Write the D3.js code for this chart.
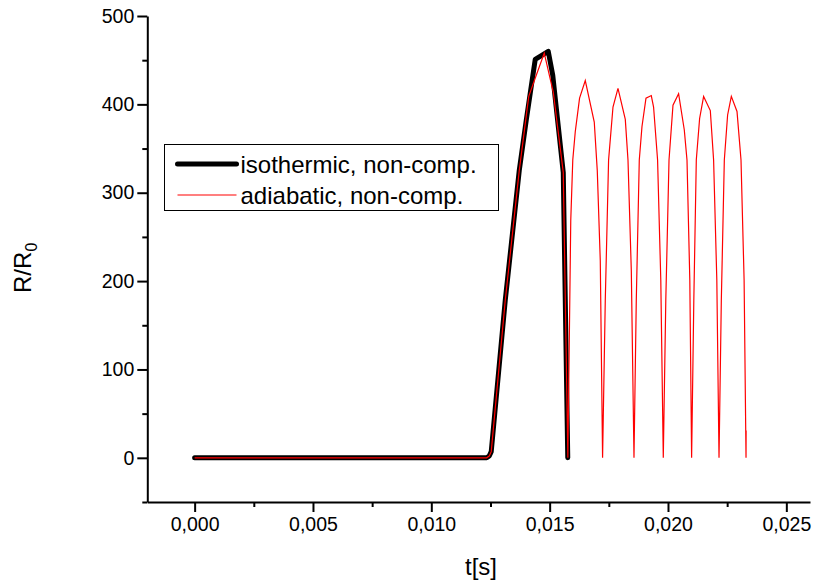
<!DOCTYPE html>
<html>
<head>
<meta charset="utf-8">
<script src="https://cdn.jsdelivr.net/npm/d3@7"></script>
<style>
  body { margin: 0; background: #fff; }
  svg { font-family: "Liberation Sans", Arial, sans-serif; }
  .axis path, .axis line { stroke: #000; stroke-width: 2px; }
  .axis text { font-size: 19.5px; fill: #000; }
</style>
</head>
<body>
<svg width="814" height="583"></svg>
<script>

// isothermic, non-comp. (black thick line)
var isoT = [0, 0.01234, 0.012447, 0.012532, 0.013123, 0.013715, 0.014011, 0.014391, 0.014941, 0.015131, 0.015575, 0.015765]
var isoR = [0, 0, 2, 7, 178, 325, 382, 451, 460, 433, 323, 0]

// adiabatic, non-comp. (thin red line)
var adiT = [0, 0.01234, 0.012447, 0.012532, 0.013123, 0.013715, 0.014117, 0.014434, 0.014772, 0.015152, 0.015575, 0.015769,
  0.015892, 0.015977, 0.016082, 0.016264, 0.016505, 0.016885, 0.017012, 0.017139, 0.017236,
  0.017350, 0.017490, 0.017676, 0.017887, 0.018196, 0.018310, 0.018450, 0.018563,
  0.018660, 0.018787, 0.018901, 0.019070, 0.019294, 0.019391, 0.019560, 0.019696, 0.019801,
  0.019907, 0.020043, 0.020211, 0.020448, 0.020689, 0.020803, 0.020922, 0.020998,
  0.021091, 0.021196, 0.021336, 0.021505, 0.021788, 0.021927, 0.022063, 0.022156,
  0.022253, 0.022380, 0.022519, 0.022676, 0.022916, 0.023085, 0.023216, 0.023297, 0.023301]
var adiR = [0, 0, 2, 7, 178, 325, 409, 433, 458, 414, 323, 0,
  269, 337, 369, 407, 427, 380, 325, 223, 0,
  178, 337, 397, 418, 383, 337, 212, 0,
  178, 337, 375, 407, 410, 397, 337, 201, 0,
  178, 337, 399, 412, 371, 337, 201, 0,
  178, 337, 384, 409, 393, 337, 201, 0,
  178, 337, 388, 409, 392, 337, 201, 0, 31]

var xTicks = [0, 0.005, 0.010, 0.015, 0.020, 0.025]
var xMinor = [0.0025, 0.0075, 0.0125, 0.0175, 0.0225]
var yTicks = [0, 100, 200, 300, 400, 500]
var yMinor = [-50, 50, 150, 250, 350, 450]

var seriesNames = ["isothermic, non-comp.", "adiabatic, non-comp."]
var seriesColors = ["#000000", "#ff0000"]
var seriesWidths = [5, 1.2]

var svg = d3.select("svg")

var x = d3.scaleLinear().domain([-0.002, 0.026]).range([147.3, 810])
var y = d3.scaleLinear().domain([-50, 500]).range([502, 16])

var loc = d3.formatLocale({decimal: ",", thousands: ".", grouping: [3], currency: ["", ""]})
var fmtX = loc.format(".3f")

// minor ticks first (drawn under the main axes)
svg.append("g")
  .attr("class", "axis")
  .attr("transform", "translate(0," + y(-50) + ")")
  .call(d3.axisBottom(x).tickValues(xMinor).tickSize(5).tickSizeOuter(0).tickFormat(""))
  .select(".domain").remove()

svg.append("g")
  .attr("class", "axis")
  .attr("transform", "translate(" + x(-0.002) + ",0)")
  .call(d3.axisLeft(y).tickValues(yMinor).tickSize(5).tickSizeOuter(0).tickFormat(""))
  .select(".domain").remove()

// main axes
svg.append("g")
  .attr("class", "axis")
  .attr("transform", "translate(0," + y(-50) + ")")
  .call(d3.axisBottom(x).tickValues(xTicks).tickSize(10).tickSizeOuter(0).tickPadding(5).tickFormat(fmtX))

svg.append("g")
  .attr("class", "axis")
  .attr("transform", "translate(" + x(-0.002) + ",0)")
  .call(d3.axisLeft(y).tickValues(yTicks).tickSize(10).tickSizeOuter(0).tickPadding(3))

// axis titles
svg.append("text")
  .attr("x", x(0.0121))
  .attr("y", 575)
  .attr("text-anchor", "middle")
  .style("font-size", "24px")
  .text("t[s]")

var yt = svg.append("text")
  .attr("transform", "translate(31," + y(215) + ") rotate(-90)")
  .attr("text-anchor", "middle")
  .style("font-size", "24px")
yt.append("tspan").text("R/R")
yt.append("tspan").attr("dy", 6).style("font-size", "16px").text("0")

// curves
var line = d3.line()
  .x(function(d) { return x(d[0]) })
  .y(function(d) { return y(d[1]) })

var isoData = isoT.map(function(t, i) { return [t, isoR[i]] })
var adiData = adiT.map(function(t, i) { return [t, adiR[i]] })

svg.append("path")
  .datum(isoData)
  .attr("d", line)
  .attr("fill", "none")
  .attr("stroke", seriesColors[0])
  .attr("stroke-width", seriesWidths[0])
  .attr("stroke-linejoin", "round")
  .attr("stroke-linecap", "round")

svg.append("path")
  .datum(adiData)
  .attr("d", line)
  .attr("fill", "none")
  .attr("stroke", seriesColors[1])
  .attr("stroke-width", seriesWidths[1])
  .attr("stroke-linejoin", "miter")

// legend
var lg = svg.append("g").attr("transform", "translate(164.5,144.5)")
lg.append("rect")
  .attr("width", 334)
  .attr("height", 66)
  .attr("fill", "#fff")
  .attr("stroke", "#000")
  .attr("stroke-width", 1)

seriesNames.forEach(function(name, i) {
  var ly = 19.5 + i * 31
  lg.append("line")
    .attr("x1", 13).attr("x2", 72)
    .attr("y1", ly).attr("y2", ly)
    .attr("stroke", seriesColors[i])
    .attr("stroke-width", seriesWidths[i])
    .attr("stroke-linecap", i == 0 ? "round" : "butt")
  lg.append("text")
    .attr("x", 76)
    .attr("y", ly + 8.5)
    .style("font-size", "24px")
    .text(name)
})

</script>
</body>
</html>
